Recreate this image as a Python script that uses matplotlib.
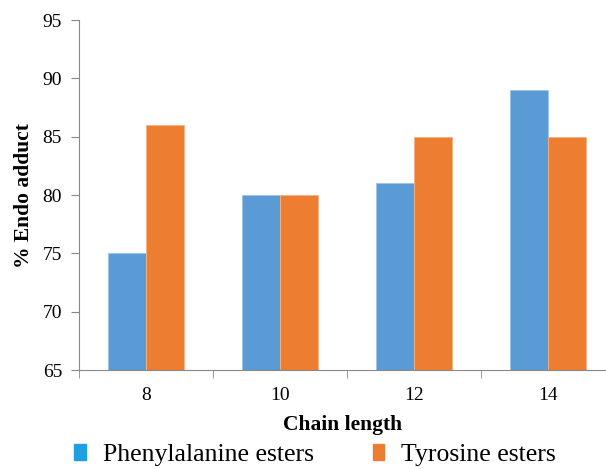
import matplotlib
matplotlib.use("Agg")
import matplotlib.pyplot as plt
from matplotlib.patches import Patch
import numpy as np

chain_lengths = ["8", "10", "12", "14"]
phenylalanine = [75, 80, 81, 89]
tyrosine = [86, 80, 85, 85]

BLUE = "#5B9BD5"
ORANGE = "#ED7D31"
SERIF = ["Liberation Serif", "DejaVu Serif"]

fig = plt.figure(figsize=(6.06, 4.69), dpi=100)
ax = fig.add_axes([0.130, 0.211, 0.870, 0.746])

xs = np.arange(len(chain_lengths))
w = 0.284
ax.bar(xs - w / 2, phenylalanine, width=w, color=BLUE, edgecolor="#9DC3E6", linewidth=0.6)
ax.bar(xs + w / 2, tyrosine, width=w, color=ORANGE, edgecolor="#F4B183", linewidth=0.6)

ax.set_yticks(range(65, 96, 5))
ax.set_xticks(xs)
ax.set_xticklabels(chain_lengths)
ax.set_xticks(np.arange(-0.5, 3.0, 1), minor=True)
ax.set_ylim(65, 95)
ax.set_xlim(-0.5, 3.43)
ax.tick_params(axis="x", which="major", length=0, pad=12)
ax.tick_params(axis="x", which="minor", length=6, color="#888888")
ax.tick_params(axis="y", length=6, color="#888888", pad=6)
for lab in ax.get_xticklabels() + ax.get_yticklabels():
    lab.set_family(SERIF)
    lab.set_fontsize(14)

for s in ("top", "right"):
    ax.spines[s].set_visible(False)
for s in ("left", "bottom"):
    ax.spines[s].set_color("#888888")

ax.set_ylabel("% Endo adduct", family=SERIF, fontsize=15.5, fontweight="bold", labelpad=6)
ax.set_xlabel("Chain length", family=SERIF, fontsize=15.5, fontweight="bold", labelpad=8)

handles = [Patch(color="#1FA0E0", label="Phenylalanine esters"),
           Patch(color=ORANGE, label="Tyrosine esters")]
fig.legend(handles=handles, loc="center", bbox_to_anchor=(0.52, 0.03), ncol=2,
           frameon=False, prop={"family": SERIF, "size": 18.5}, borderpad=0,
           handlelength=0.45, handleheight=0.6, handletextpad=0.65, columnspacing=2.3)

fig.savefig("out.png", dpi=100)
